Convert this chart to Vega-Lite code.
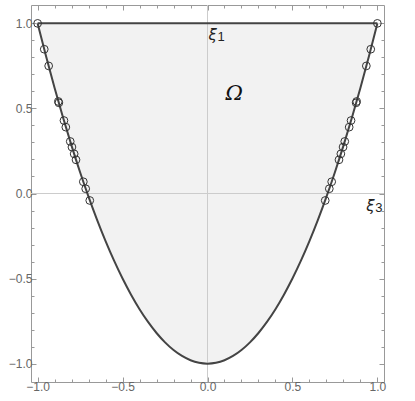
{
  "$schema": "https://vega.github.io/schema/vega-lite/v6.json",
  "autosize": {"type": "none"},
  "width": 353,
  "height": 377,
  "padding": {"left": 31, "top": 5, "right": 31, "bottom": 19},
  "background": "white",
  "config": {
    "view": {"stroke": "#999999", "strokeWidth": 1},
    "axis": {"labelFont": "Liberation Sans", "labelFontSize": 12, "labelColor": "#666666", "tickColor": "#999999", "domain": false, "grid": false, "title": null}
  },
  "datasets": {
    "curve": [
      {"x": -1.0, "y": 1.0}, {"x": -0.95, "y": 0.805}, {"x": -0.9, "y": 0.62}, {"x": -0.85, "y": 0.445},
      {"x": -0.8, "y": 0.28}, {"x": -0.75, "y": 0.125}, {"x": -0.7, "y": -0.02}, {"x": -0.65, "y": -0.155},
      {"x": -0.6, "y": -0.28}, {"x": -0.55, "y": -0.395}, {"x": -0.5, "y": -0.5}, {"x": -0.45, "y": -0.595},
      {"x": -0.4, "y": -0.68}, {"x": -0.35, "y": -0.755}, {"x": -0.3, "y": -0.82}, {"x": -0.25, "y": -0.875},
      {"x": -0.2, "y": -0.92}, {"x": -0.15, "y": -0.955}, {"x": -0.1, "y": -0.98}, {"x": -0.05, "y": -0.995},
      {"x": 0.0, "y": -1.0},
      {"x": 0.05, "y": -0.995}, {"x": 0.1, "y": -0.98}, {"x": 0.15, "y": -0.955}, {"x": 0.2, "y": -0.92},
      {"x": 0.25, "y": -0.875}, {"x": 0.3, "y": -0.82}, {"x": 0.35, "y": -0.755}, {"x": 0.4, "y": -0.68},
      {"x": 0.45, "y": -0.595}, {"x": 0.5, "y": -0.5}, {"x": 0.55, "y": -0.395}, {"x": 0.6, "y": -0.28},
      {"x": 0.65, "y": -0.155}, {"x": 0.7, "y": -0.02}, {"x": 0.75, "y": 0.125}, {"x": 0.8, "y": 0.28},
      {"x": 0.85, "y": 0.445}, {"x": 0.9, "y": 0.62}, {"x": 0.95, "y": 0.805}, {"x": 1.0, "y": 1.0}
    ],
    "pts": [
      {"x": -1.0, "y": 1.0}, {"x": -0.961, "y": 0.848}, {"x": -0.935, "y": 0.75}, {"x": -0.878, "y": 0.541},
      {"x": -0.875, "y": 0.533}, {"x": -0.845, "y": 0.429}, {"x": -0.834, "y": 0.39}, {"x": -0.808, "y": 0.306},
      {"x": -0.798, "y": 0.273}, {"x": -0.785, "y": 0.233}, {"x": -0.774, "y": 0.198}, {"x": -0.731, "y": 0.069},
      {"x": -0.717, "y": 0.028}, {"x": -0.693, "y": -0.041},
      {"x": 1.0, "y": 1.0}, {"x": 0.961, "y": 0.848}, {"x": 0.935, "y": 0.75}, {"x": 0.878, "y": 0.541},
      {"x": 0.875, "y": 0.533}, {"x": 0.845, "y": 0.429}, {"x": 0.834, "y": 0.39}, {"x": 0.808, "y": 0.306},
      {"x": 0.798, "y": 0.273}, {"x": 0.785, "y": 0.233}, {"x": 0.774, "y": 0.198}, {"x": 0.731, "y": 0.069},
      {"x": 0.717, "y": 0.028}, {"x": 0.693, "y": -0.041}
    ],
    "labels": [
      {"x": 0.006, "y": 0.93, "base": "ξ", "sub": "1"},
      {"x": 0.934, "y": -0.074, "base": "ξ", "sub": "3"}
    ],
    "omega": [{"x": 0.157, "y": 0.585, "t": "Ω"}],
    "zero": [{"v": 0}],
    "top": [{"x1": -1, "x2": 1, "y": 1}]
  },
  "resolve": {"axis": {"x": "independent", "y": "independent"}},
  "layer": [
    {
      "data": {"name": "curve"},
      "mark": {"type": "area", "color": "#f2f2f2", "interpolate": "monotone"},
      "encoding": {
        "x": {"field": "x", "type": "quantitative", "scale": {"domain": [-1.039, 1.039], "nice": false, "zero": false},
          "axis": {"orient": "bottom", "values": [-1, -0.9, -0.8, -0.7, -0.6, -0.5, -0.4, -0.3, -0.2, -0.1, 0, 0.1, 0.2, 0.3, 0.4, 0.5, 0.6, 0.7, 0.8, 0.9, 1],
            "labelExpr": "abs(datum.value*2 - round(datum.value*2)) < 0.001 ? format(datum.value, '.1f') : ''",
            "tickSize": {"condition": {"test": "abs(datum.value*2 - round(datum.value*2)) < 0.001", "value": -5}, "value": -3},
            "labelPadding": 4, "labelFlush": false, "labelOverlap": false}},
        "y": {"field": "y", "type": "quantitative", "scale": {"domain": [-1.108, 1.108], "nice": false, "zero": false},
          "axis": {"orient": "left", "values": [-1, -0.9, -0.8, -0.7, -0.6, -0.5, -0.4, -0.3, -0.2, -0.1, 0, 0.1, 0.2, 0.3, 0.4, 0.5, 0.6, 0.7, 0.8, 0.9, 1],
            "labelExpr": "abs(datum.value*2 - round(datum.value*2)) < 0.001 ? format(datum.value, '.1f') : ''",
            "tickSize": {"condition": {"test": "abs(datum.value*2 - round(datum.value*2)) < 0.001", "value": -5}, "value": -3},
            "labelPadding": 4, "labelFlush": false, "labelOverlap": false}},
        "y2": {"datum": 1}
      }
    },
    {
      "data": {"name": "zero"},
      "mark": {"type": "rule", "color": "#cccccc", "strokeWidth": 1},
      "encoding": {"x": {"field": "v", "type": "quantitative", "axis": null}}
    },
    {
      "data": {"name": "zero"},
      "mark": {"type": "rule", "color": "#cccccc", "strokeWidth": 1},
      "encoding": {"y": {"field": "v", "type": "quantitative", "axis": null}}
    },
    {
      "data": {"name": "curve"},
      "mark": {"type": "line", "color": "#444444", "strokeWidth": 2, "interpolate": "monotone"},
      "encoding": {
        "x": {"field": "x", "type": "quantitative",
          "axis": {"orient": "top", "labels": false, "values": [-1, -0.9, -0.8, -0.7, -0.6, -0.5, -0.4, -0.3, -0.2, -0.1, 0, 0.1, 0.2, 0.3, 0.4, 0.5, 0.6, 0.7, 0.8, 0.9, 1],
            "tickSize": {"condition": {"test": "abs(datum.value*2 - round(datum.value*2)) < 0.001", "value": -5}, "value": -3}}},
        "y": {"field": "y", "type": "quantitative",
          "axis": {"orient": "right", "labels": false, "values": [-1, -0.9, -0.8, -0.7, -0.6, -0.5, -0.4, -0.3, -0.2, -0.1, 0, 0.1, 0.2, 0.3, 0.4, 0.5, 0.6, 0.7, 0.8, 0.9, 1],
            "tickSize": {"condition": {"test": "abs(datum.value*2 - round(datum.value*2)) < 0.001", "value": -5}, "value": -3}}}
      }
    },
    {
      "data": {"name": "top"},
      "mark": {"type": "rule", "color": "#444444", "strokeWidth": 2},
      "encoding": {
        "x": {"field": "x1", "type": "quantitative", "axis": null},
        "x2": {"field": "x2"},
        "y": {"field": "y", "type": "quantitative", "axis": null}
      }
    },
    {
      "data": {"name": "pts"},
      "mark": {"type": "point", "shape": "circle", "filled": false, "stroke": "#333333", "strokeWidth": 1, "size": 60, "opacity": 1},
      "encoding": {
        "x": {"field": "x", "type": "quantitative", "axis": null},
        "y": {"field": "y", "type": "quantitative", "axis": null}
      }
    },
    {
      "data": {"name": "labels"},
      "mark": {"type": "text", "align": "left", "baseline": "middle", "font": "DejaVu Sans", "fontStyle": "italic", "fontSize": 15, "color": "#222222"},
      "encoding": {
        "x": {"field": "x", "type": "quantitative", "axis": null},
        "y": {"field": "y", "type": "quantitative", "axis": null},
        "text": {"field": "base"}
      }
    },
    {
      "data": {"name": "labels"},
      "mark": {"type": "text", "align": "left", "baseline": "middle", "font": "Liberation Sans", "fontSize": 13, "dx": 9, "dy": 2, "color": "#222222"},
      "encoding": {
        "x": {"field": "x", "type": "quantitative", "axis": null},
        "y": {"field": "y", "type": "quantitative", "axis": null},
        "text": {"field": "sub"}
      }
    },
    {
      "data": {"name": "omega"},
      "mark": {"type": "text", "align": "center", "baseline": "middle", "font": "DejaVu Serif", "fontStyle": "italic", "fontSize": 21, "color": "#111111"},
      "encoding": {
        "x": {"field": "x", "type": "quantitative", "axis": null},
        "y": {"field": "y", "type": "quantitative", "axis": null},
        "text": {"field": "t"}
      }
    }
  ]
}
